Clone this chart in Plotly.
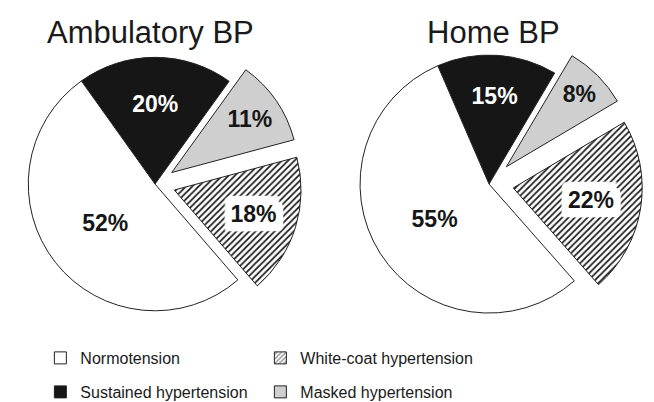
import plotly.graph_objects as go

categories = ["Sustained hypertension", "Masked hypertension", "White-coat hypertension", "Normotension"]
ambulatory_values = [20, 11, 18, 52]
home_values = [15, 8, 22, 55]
titles = ["Ambulatory BP", "Home BP"]
legend_row1 = ["Normotension", "White-coat hypertension"]
legend_row2 = ["Sustained hypertension", "Masked hypertension"]

fills = {
    "Sustained hypertension": "#161616",
    "Masked hypertension": "#cfcfcf",
    "White-coat hypertension": "#ffffff",
    "Normotension": "#ffffff",
}
patterns = {
    "Sustained hypertension": "",
    "Masked hypertension": "",
    "White-coat hypertension": "/",
    "Normotension": "",
}
text_colors = {
    "Sustained hypertension": "#ffffff",
    "Masked hypertension": "#161616",
    "White-coat hypertension": "#161616",
    "Normotension": "#161616",
}
exploded = {"Masked hypertension", "White-coat hypertension"}

# white halo (box-like) behind the label on the hatched slice
halo = ", ".join(f"{dx}px {dy}px 1px #ffffff" for dx in range(-7, 8, 2) for dy in range(-9, 10, 2))
shadows = [halo if patterns[c] else "none" for c in categories]

FONT = "Liberation Sans, Arial, sans-serif"

fig = go.Figure()

def add_pie(values, domain_x, domain_y, rotation, pull):
    fig.add_trace(go.Pie(
        labels=categories,
        values=values,
        sort=False,
        direction="clockwise",
        rotation=rotation,
        pull=[pull if c in exploded else 0 for c in categories],
        marker=dict(
            colors=[fills[c] for c in categories],
            line=dict(color="#222222", width=1),
            pattern=dict(
                shape=[patterns[c] for c in categories],
                fgcolor="#161616",
                bgcolor="#ffffff",
                size=4.5,
                solidity=0.38,
            ),
        ),
        texttemplate="%{value}%",
        textinfo="text",
        textposition="inside",
        insidetextorientation="horizontal",
        textfont=dict(
            family=FONT, size=23, weight="bold",
            color=[text_colors[c] for c in categories],
            shadow=shadows,
        ),
        domain=dict(x=domain_x, y=domain_y),
        showlegend=False,
        hoverinfo="label+percent",
    ))

add_pie(ambulatory_values, [0.0, 0.4495], [0.189, 0.935], -35.5, 0.16)
add_pie(home_values, [0.5008, 0.9702], [0.18, 0.944], -23.4, 0.19)

# legend entries
for row, leg in ((legend_row1, "legend"), (legend_row2, "legend2")):
    for c in row:
        fig.add_trace(go.Bar(
            x=[None], y=[None], name=c, legend=leg,
            marker=dict(
                color=fills[c],
                line=dict(color="#222222", width=1),
                pattern=dict(shape=patterns[c], fgcolor="#161616", bgcolor="#ffffff",
                             size=4, solidity=0.4),
            ),
        ))

legend_common = dict(
    orientation="h", xanchor="left", yanchor="middle",
    font=dict(family=FONT, size=16, color="#1a1a1a"),
    entrywidth=175, bgcolor="rgba(0,0,0,0)",
)

title_font = dict(family=FONT, size=31, color="#1a1a1a")

fig.update_layout(
    width=654, height=402,
    margin=dict(l=0, r=0, t=0, b=0, autoexpand=False),
    paper_bgcolor="white", plot_bgcolor="white",
    xaxis=dict(visible=False), yaxis=dict(visible=False),
    legend=dict(x=0.0495, y=0.1294, **legend_common),
    legend2=dict(x=0.0495, y=0.0448, **legend_common),
    annotations=[
        dict(text=titles[0], x=142 / 654, y=0.94, xref="paper", yref="paper",
             xanchor="center", yanchor="middle", showarrow=False, font=title_font),
        dict(text=titles[1], x=485 / 654, y=0.94, xref="paper", yref="paper",
             xanchor="center", yanchor="middle", showarrow=False, font=title_font),
    ],
    uniformtext=dict(minsize=23, mode="show"),
)

fig.write_html("out.html")
